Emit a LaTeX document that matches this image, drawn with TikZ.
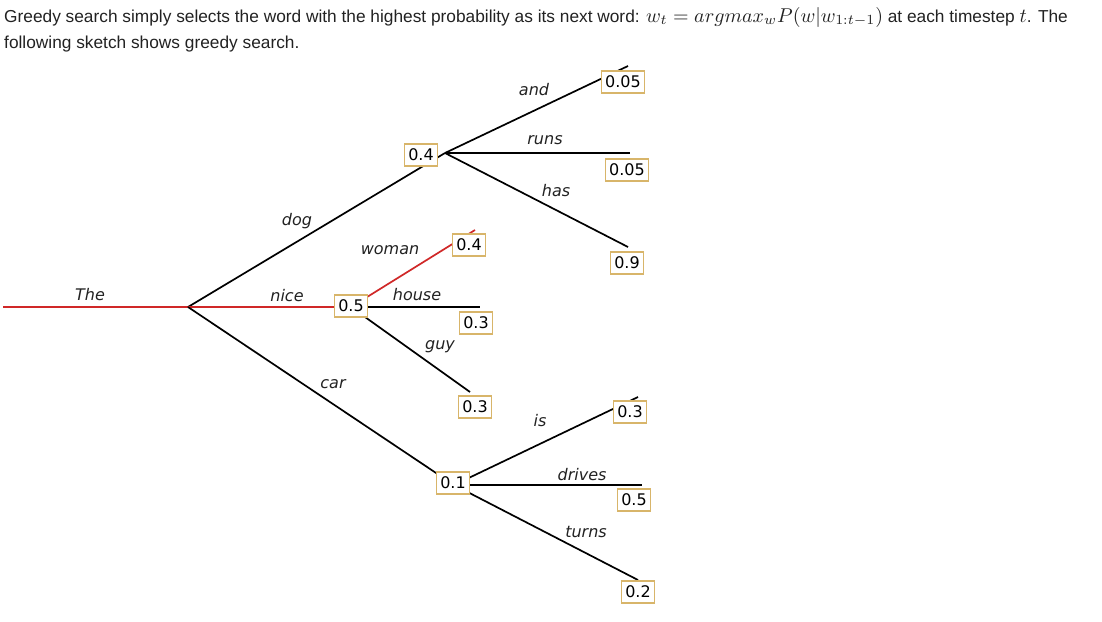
\documentclass[tikz,border=0pt]{standalone}
\usepackage{graphicx}
\usepackage{fontspec}
\setmainfont{Liberation Sans}
\newfontfamily\dv{DejaVu Sans}
\usetikzlibrary{calc}
\definecolor{boxc}{HTML}{D8B56A}
\definecolor{redl}{HTML}{D02828}
\definecolor{txt}{HTML}{222222}
\newcommand{\bigmath}[1]{\scalebox{2.0}{\fontsize{10}{10}\selectfont$#1$}}
\begin{document}
\begin{tikzpicture}[x=1pt,y=-1pt,
  prob/.style={draw=boxc,line width=1.2pt,fill=white,inner sep=4pt,font=\dv\fontsize{16}{16}\selectfont,minimum height=22pt},
  word/.style={font=\dv\itshape\fontsize{16}{16}\selectfont,inner sep=0pt,text=txt},
  edge/.style={line width=1.7pt,black},
  best/.style={line width=1.7pt,redl},
  head/.style={anchor=base west,inner sep=0pt,text=txt,font=\fontsize{17.3}{18}\selectfont}]
\useasboundingbox[fill=white] (0,0) rectangle (1102,621);
% header
\node[head] (h1) at (4,22)
  {Greedy search simply selects the word with the highest probability as its next word: \bigmath{w_t = argmax_w P(w|w_{1:t-1})} at each timestep \bigmath{t}. The};
\node[head] (h2) at (4,48)
  {following sketch shows greedy search.};
% junctions and ends
\coordinate (s) at (3,307);
\coordinate (r) at (188,307);
\coordinate (jd) at (445,153);
\coordinate (jn) at (351,307);
\coordinate (jc) at (454,485);
\coordinate (eand) at (628,66);
\coordinate (eruns) at (630,153);
\coordinate (ehas) at (628,247);
\coordinate (ewoman) at (475,230);
\coordinate (ehouse) at (480,307);
\coordinate (eguy) at (470,392);
\coordinate (eis) at (638,397);
\coordinate (edrives) at (642,485);
\coordinate (eturns) at (638,580);
% lines
\draw[best] (s) -- (r);
\draw[edge] (r) -- (jd);
\draw[best] (r) -- (jn);
\draw[edge] (r) -- (jc);
\draw[edge] (jd) -- (eand);
\draw[edge] (jd) -- (eruns);
\draw[edge] (jd) -- (ehas);
\draw[best] (jn) -- (ewoman);
\draw[edge] (jn) -- (ehouse);
\draw[edge] (jn) -- (eguy);
\draw[edge] (jc) -- (eis);
\draw[edge] (jc) -- (edrives);
\draw[edge] (jc) -- (eturns);
% word labels
\node[word] (wthe) at (90,295) {The};
\node[word] (wdog) at (297,221) {dog};
\node[word] (wnice) at (287,296) {nice};
\node[word] (wcar) at (333,384) {car};
\node[word] (wand) at (534,90) {and};
\node[word] (wruns) at (545,140) {runs};
\node[word] (whas) at (556,191) {has};
\node[word] (wwoman) at (390,250) {woman};
\node[word] (whouse) at (417,295) {house};
\node[word] (wguy) at (440,347) {guy};
\node[word] (wis) at (540,421) {is};
\node[word] (wdrives) at (582,475) {drives};
\node[word] (wturns) at (586,532) {turns};
% probability boxes
\node[prob] (pdog) at (421,155) {0.4};
\node[prob] (pnice) at (351,306) {0.5};
\node[prob] (pcar) at (453,483) {0.1};
\node[prob] (pand) at (623,82) {0.05};
\node[prob] (pruns) at (627,170) {0.05};
\node[prob] (phas) at (627,263) {0.9};
\node[prob] (pwoman) at (469,245) {0.4};
\node[prob] (phouse) at (476,323) {0.3};
\node[prob] (pguy) at (475,407) {0.3};
\node[prob] (pis) at (630,412) {0.3};
\node[prob] (pdrives) at (634,500) {0.5};
\node[prob] (pturns) at (638,592) {0.2};
\end{tikzpicture}
\end{document}
